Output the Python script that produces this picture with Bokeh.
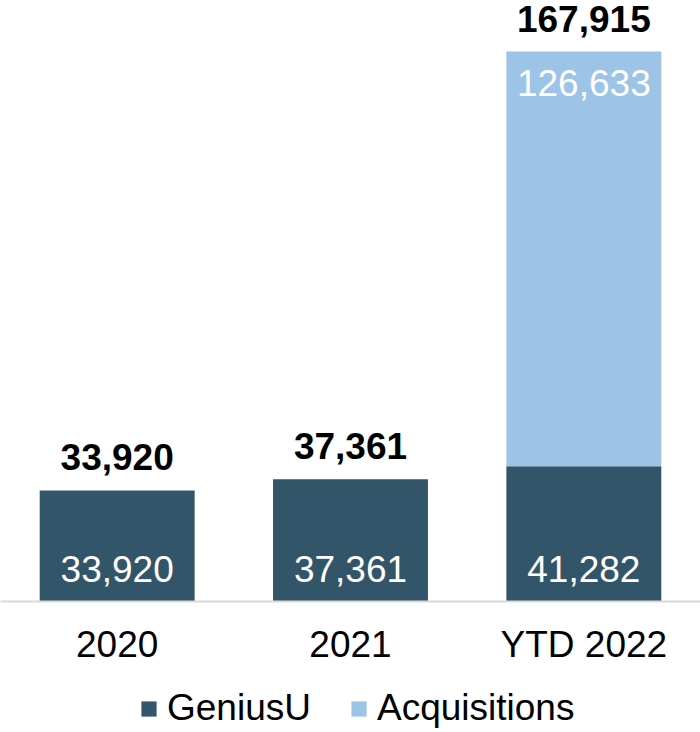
from bokeh.plotting import figure
from bokeh.layouts import column
from bokeh.models import ColumnDataSource, Range1d, FactorRange, Legend, LegendItem
from bokeh.core.properties import value
from bokeh.embed import file_html
from bokeh.resources import INLINE

categories = ["2020", "2021", "YTD 2022"]
geniusu = [33920, 37361, 41282]
acquisitions = [0, 0, 126633]
series_names = ["GeniusU", "Acquisitions"]
colors = ["#33556a", "#9dc3e6"]

FONT = "Liberation Sans"
totals = [g + a for g, a in zip(geniusu, acquisitions)]

src = ColumnDataSource(dict(
    cat=categories,
    GeniusU=geniusu,
    Acquisitions=acquisitions,
    total=totals,
    total_txt=[f"{t:,}" for t in totals],
    g_txt=[f"{g:,}" for g in geniusu],
    zero=[0] * len(categories),
))

acq_idx = [i for i, a in enumerate(acquisitions) if a > 0]
acq_src = ColumnDataSource(dict(
    cat=[categories[i] for i in acq_idx],
    top=[totals[i] for i in acq_idx],
    txt=[f"{acquisitions[i]:,}" for i in acq_idx],
))

p = figure(
    x_range=FactorRange(*categories, range_padding=0),
    y_range=Range1d(0, 183500),
    frame_width=700, frame_height=601,
    output_backend="svg", toolbar_location=None,
    min_border=0,
)

p.vbar_stack(series_names, x="cat", width=0.664, color=colors,
             line_color=None, source=src)

p.text(x="cat", y="total", text="total_txt", source=src,
       text_align="center", text_baseline="alphabetic", y_offset=-33,
       text_font=value(FONT), text_font_style="bold",
       text_font_size="37px", text_color="black")

p.text(x="cat", y="zero", text="g_txt", source=src,
       text_align="center", text_baseline="alphabetic", y_offset=-33,
       text_font=value(FONT), text_font_size="37px", text_color="white")

p.text(x="cat", y="top", text="txt", source=acq_src,
       text_align="center", text_baseline="alphabetic", y_offset=31,
       text_font=value(FONT), text_font_size="37px", text_color="white")

p.yaxis.visible = False
p.xgrid.visible = False
p.ygrid.visible = False
p.outline_line_color = None

ax = p.xaxis[0]
ax.axis_line_color = "#d9d9d9"
ax.axis_line_width = 2
ax.major_tick_line_color = None
ax.minor_tick_line_color = None
ax.major_label_text_font = FONT
ax.major_label_text_font_size = "37px"
ax.major_label_text_color = "black"
ax.major_label_standoff = 16

# legend strip below the chart; its bar renderers are hidden, only the legend shows
lg = figure(
    x_range=FactorRange(*categories, range_padding=0),
    y_range=Range1d(0, 1),
    frame_width=700, frame_height=66,
    output_backend="svg", toolbar_location=None,
    min_border=0, x_axis_location=None, y_axis_location=None,
)
lg.xgrid.visible = False
lg.ygrid.visible = False
lg.outline_line_color = None
lrs = lg.vbar_stack(series_names, x="cat", width=0.664, color=colors,
                    line_color=None, source=src)
for r in lrs:
    r.visible = False
legend = Legend(
    items=[LegendItem(label=n, renderers=[r]) for n, r in zip(series_names, lrs)],
    orientation="horizontal", location=(139, 4), click_policy="none",
    label_text_font=FONT, label_text_font_size="37px", label_text_color="black",
    glyph_width=19, glyph_height=19, label_standoff=9, spacing=38,
    padding=0, margin=0, border_line_color=None, background_fill_alpha=0,
)
lg.add_layout(legend)

open("out.html", "w").write(file_html(column(p, lg, spacing=0), INLINE))
